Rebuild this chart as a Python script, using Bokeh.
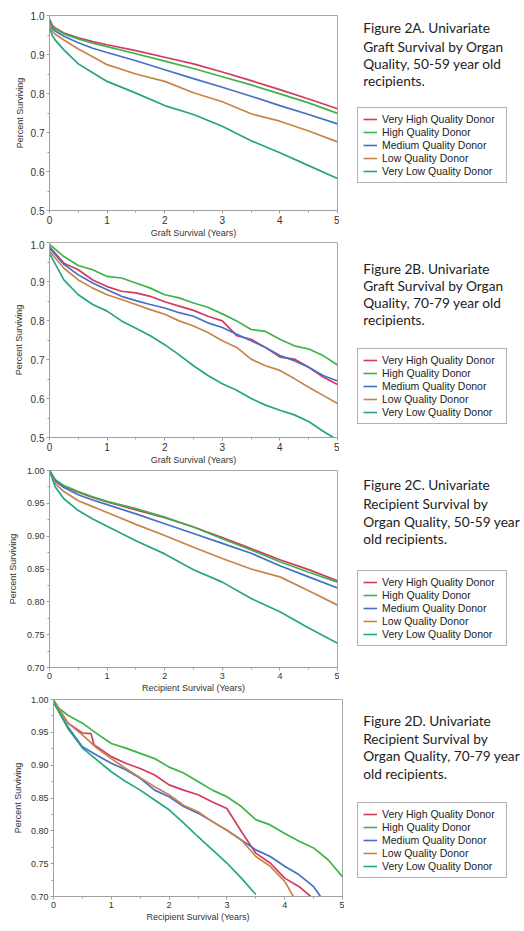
from bokeh.plotting import figure
from bokeh.models import Range1d, FixedTicker, PrintfTickFormatter, Legend, LegendItem, Label
from bokeh.layouts import column, row
from bokeh.embed import file_html
from bokeh.resources import INLINE

series_names = ["Very High Quality Donor", "High Quality Donor", "Medium Quality Donor",
                "Low Quality Donor", "Very Low Quality Donor"]
series_colors = ["#d43a5e", "#3db34a", "#4570c8", "#c98449", "#24a67e"]

x_ticks = [0, 1, 2, 3, 4, 5]
x_minor = [0.5, 1.5, 2.5, 3.5, 4.5]
y_ticks_graft = [0.5, 0.6, 0.7, 0.8, 0.9, 1.0]
y_minor_graft = [0.55, 0.65, 0.75, 0.85, 0.95]
y_ticks_recip = [0.70, 0.75, 0.80, 0.85, 0.90, 0.95, 1.00]
y_minor_recip = [0.725, 0.775, 0.825, 0.875, 0.925, 0.975]

# ---- Figure 2A: graft survival, 50-59 ----
a_years = [0, 0.05, 0.1, 0.25, 0.5, 0.75, 1, 1.5, 2, 2.5, 3, 3.5, 4, 4.5, 5]
a_very_high = [0.990, 0.975, 0.968, 0.955, 0.943, 0.933, 0.925, 0.910, 0.893, 0.876, 0.855, 0.833, 0.810, 0.786, 0.761]
a_high = [0.990, 0.973, 0.966, 0.953, 0.940, 0.929, 0.920, 0.902, 0.883, 0.864, 0.843, 0.822, 0.799, 0.776, 0.749]
a_medium = [0.985, 0.968, 0.960, 0.947, 0.930, 0.916, 0.905, 0.884, 0.861, 0.838, 0.816, 0.793, 0.769, 0.746, 0.722]
a_low = [0.980, 0.960, 0.952, 0.937, 0.914, 0.894, 0.874, 0.850, 0.831, 0.802, 0.779, 0.748, 0.729, 0.704, 0.676]
a_very_low = [0.970, 0.948, 0.937, 0.912, 0.876, 0.853, 0.831, 0.801, 0.769, 0.746, 0.716, 0.679, 0.648, 0.615, 0.582]

# ---- Figure 2B: graft survival, 70-79 ----
b_years = [0, 0.25, 0.5, 0.75, 1, 1.25, 1.5, 1.75, 2, 2.25, 2.5, 2.75, 3, 3.25, 3.5, 3.75, 4, 4.25, 4.5, 4.75, 5]
b_very_high = [0.989, 0.947, 0.930, 0.904, 0.887, 0.875, 0.871, 0.862, 0.848, 0.837, 0.826, 0.811, 0.799, 0.761, 0.752, 0.731, 0.706, 0.701, 0.680, 0.655, 0.636]
b_high = [0.995, 0.964, 0.941, 0.930, 0.913, 0.909, 0.896, 0.883, 0.866, 0.858, 0.845, 0.834, 0.817, 0.799, 0.777, 0.772, 0.752, 0.735, 0.727, 0.710, 0.686]
b_medium = [0.986, 0.944, 0.917, 0.896, 0.879, 0.862, 0.851, 0.841, 0.832, 0.820, 0.811, 0.794, 0.782, 0.765, 0.748, 0.731, 0.710, 0.697, 0.680, 0.659, 0.645]
b_low = [0.978, 0.934, 0.904, 0.883, 0.866, 0.854, 0.841, 0.828, 0.816, 0.799, 0.786, 0.769, 0.748, 0.731, 0.701, 0.684, 0.672, 0.651, 0.629, 0.608, 0.587]
b_very_low = [0.972, 0.904, 0.866, 0.841, 0.824, 0.799, 0.780, 0.761, 0.738, 0.712, 0.684, 0.659, 0.638, 0.621, 0.600, 0.583, 0.570, 0.558, 0.541, 0.516, 0.494]

# ---- Figure 2C: recipient survival, 50-59 ----
c_years = [0, 0.1, 0.25, 0.5, 0.75, 1, 1.5, 2, 2.5, 3, 3.5, 4, 4.5, 5]
c_very_high = [1.0, 0.985, 0.976, 0.967, 0.959, 0.952, 0.940, 0.928, 0.914, 0.898, 0.881, 0.864, 0.849, 0.832]
c_high = [1.0, 0.986, 0.977, 0.968, 0.960, 0.953, 0.942, 0.929, 0.914, 0.896, 0.879, 0.861, 0.845, 0.830]
c_medium = [1.0, 0.984, 0.974, 0.963, 0.955, 0.948, 0.934, 0.919, 0.904, 0.889, 0.874, 0.855, 0.838, 0.821]
c_low = [1.0, 0.980, 0.968, 0.954, 0.945, 0.936, 0.918, 0.901, 0.883, 0.866, 0.850, 0.838, 0.817, 0.795]
c_very_low = [1.0, 0.975, 0.957, 0.939, 0.926, 0.915, 0.893, 0.873, 0.849, 0.830, 0.805, 0.785, 0.760, 0.737]

# ---- Figure 2D: recipient survival, 70-79 ----
d_years_very_high = [0, 0.25, 0.5, 0.65, 0.7, 1, 1.25, 1.5, 1.75, 2, 2.25, 2.5, 2.75, 3, 3.25, 3.5, 3.75, 4, 4.25, 4.45]
d_very_high = [0.999, 0.964, 0.949, 0.948, 0.931, 0.913, 0.903, 0.895, 0.885, 0.870, 0.862, 0.855, 0.844, 0.834, 0.799, 0.766, 0.751, 0.728, 0.715, 0.700]
d_years_high = [0, 0.1, 0.25, 0.5, 0.75, 1, 1.25, 1.5, 1.75, 2, 2.25, 2.5, 2.75, 3, 3.25, 3.5, 3.75, 4, 4.25, 4.5, 4.75, 5]
d_high = [0.999, 0.986, 0.976, 0.964, 0.948, 0.933, 0.926, 0.918, 0.910, 0.897, 0.888, 0.875, 0.862, 0.852, 0.837, 0.817, 0.809, 0.796, 0.784, 0.774, 0.756, 0.730]
d_years_medium = [0, 0.25, 0.5, 0.75, 1, 1.25, 1.5, 1.75, 2, 2.25, 2.5, 2.75, 3, 3.25, 3.5, 3.75, 4, 4.25, 4.5, 4.62]
d_medium = [0.996, 0.958, 0.928, 0.915, 0.903, 0.893, 0.880, 0.862, 0.852, 0.837, 0.827, 0.814, 0.801, 0.786, 0.771, 0.761, 0.746, 0.733, 0.715, 0.700]
d_years_low = [0, 0.25, 0.5, 0.75, 1, 1.25, 1.5, 1.75, 2, 2.25, 2.5, 2.75, 3, 3.25, 3.5, 3.75, 4, 4.15]
d_low = [0.998, 0.964, 0.946, 0.926, 0.910, 0.895, 0.881, 0.867, 0.855, 0.839, 0.829, 0.814, 0.801, 0.786, 0.761, 0.746, 0.723, 0.700]
d_years_very_low = [0, 0.25, 0.5, 0.75, 1, 1.25, 1.5, 1.75, 2, 2.25, 2.5, 2.75, 3, 3.25, 3.5]
d_very_low = [0.996, 0.956, 0.926, 0.908, 0.890, 0.875, 0.862, 0.847, 0.832, 0.812, 0.791, 0.771, 0.751, 0.728, 0.703]

captions = {
    "A": ["Figure 2A. Univariate", "Graft Survival by Organ", "Quality, 50-59 year old", "recipients."],
    "B": ["Figure 2B. Univariate", "Graft Survival by Organ", "Quality, 70-79 year old", "recipients."],
    "C": ["Figure 2C. Univariate", "Recipient Survival by", "Organ Quality, 50-59 year", "old recipients."],
    "D": ["Figure 2D. Univariate", "Recipient Survival by", "Organ Quality, 70-79 year", "old recipients."],
}

# layout: page pixel positions (page has no margin)
panels = [
    dict(key="A", xlabel="Graft Survival (Years)", yr=(0.5, 1.0), yt=y_ticks_graft, ym=y_minor_graft, fmt="%.1f",
         series=[(a_years, a_very_high), (a_years, a_high), (a_years, a_medium), (a_years, a_low), (a_years, a_very_low)],
         page_top=0, height=240, top=15, bottom=28, left=49, fw=288, tick_fs="10px", ylab_stand=3,
         cap_y=[27, 45.7, 63.3, 80], leg_top=107),
    dict(key="B", xlabel="Graft Survival (Years)", yr=(0.5, 1.0), yt=y_ticks_graft, ym=y_minor_graft, fmt="%.1f",
         series=[(b_years, b_very_high), (b_years, b_high), (b_years, b_medium), (b_years, b_low), (b_years, b_very_low)],
         page_top=240, height=227, top=2, bottom=28, left=49, fw=288, tick_fs="10px", ylab_stand=4,
         cap_y=[267.7, 285, 302.3, 319.3], leg_top=348),
    dict(key="C", xlabel="Recipient Survival (Years)", yr=(0.70, 1.00), yt=y_ticks_recip, ym=y_minor_recip, fmt="%.2f",
         series=[(c_years, c_very_high), (c_years, c_high), (c_years, c_medium), (c_years, c_low), (c_years, c_very_low)],
         page_top=467, height=228, top=3, bottom=28, left=49, fw=288, tick_fs="9px", ylab_stand=6,
         cap_y=[484.3, 502.7, 520.7, 538.3], leg_top=570),
    dict(key="D", xlabel="Recipient Survival (Years)", yr=(0.70, 1.00), yt=y_ticks_recip, ym=y_minor_recip, fmt="%.2f",
         series=[(d_years_very_high, d_very_high), (d_years_high, d_high), (d_years_medium, d_medium),
                 (d_years_low, d_low), (d_years_very_low, d_very_low)],
         page_top=695, height=236, top=4, bottom=35, left=53, fw=289, tick_fs="9px", ylab_stand=5,
         cap_y=[720, 737.7, 755, 773], leg_top=802),
]

TOTAL_W = 524
CAPTION_X = 362.7
LEGEND_X = 357

rows = []
for cfg in panels:
    main_w = cfg["left"] + cfg["fw"] + 2
    p = figure(width=main_w, height=cfg["height"], output_backend="svg", toolbar_location=None,
               x_range=Range1d(0, 5), y_range=Range1d(*cfg["yr"]),
               min_border_left=cfg["left"], min_border_top=cfg["top"], min_border_bottom=cfg["bottom"],
               min_border_right=2)
    p.grid.visible = False
    p.outline_line_color = "#a8a8a8"
    p.outline_line_width = 1
    p.background_fill_color = "white"
    p.border_fill_color = "white"

    p.xaxis.ticker = FixedTicker(ticks=x_ticks, minor_ticks=x_minor)
    p.yaxis.ticker = FixedTicker(ticks=cfg["yt"], minor_ticks=cfg["ym"])
    p.yaxis.formatter = PrintfTickFormatter(format=cfg["fmt"])
    p.xaxis.formatter = PrintfTickFormatter(format="%d")
    p.xaxis.axis_label = cfg["xlabel"]
    p.yaxis.axis_label = "Percent Surviving"
    for ax in (p.xaxis, p.yaxis):
        ax.axis_line_color = "#a0a0a0"
        ax.major_tick_line_color = "#a0a0a0"
        ax.minor_tick_line_color = "#a0a0a0"
        ax.major_tick_in = 0
        ax.major_tick_out = 3
        ax.minor_tick_in = 0
        ax.minor_tick_out = 2
        ax.major_label_text_font = "Liberation Sans"
        ax.major_label_text_font_size = cfg["tick_fs"]
        ax.major_label_text_color = "#333333"
        ax.axis_label_text_font = "Liberation Sans"
        ax.axis_label_text_font_size = "9px"
        ax.axis_label_text_font_style = "normal"
        ax.axis_label_text_color = "#333333"
    p.xaxis.major_label_standoff = 2
    p.xaxis.axis_label_standoff = 1
    p.yaxis.major_label_standoff = 2
    p.yaxis.axis_label_standoff = cfg["ylab_stand"]

    for (xs, ys), col in zip(cfg["series"], series_colors):
        p.line(xs, ys, line_color=col, line_width=1.7)

    side_left = main_w
    side_w = TOTAL_W - main_w
    side_pad = LEGEND_X - side_left
    cap_h = cfg["leg_top"] - cfg["page_top"]
    leg_h = cfg["height"] - cap_h
    frame_top_page = cfg["page_top"] + cfg["top"]

    # caption block: its frame top lines up with the plot frame top; data coords = page pixels
    c = figure(width=side_w, height=cap_h, output_backend="svg", toolbar_location=None,
               x_range=Range1d(LEGEND_X, TOTAL_W),
               y_range=Range1d(cfg["leg_top"], frame_top_page),
               x_axis_type=None, y_axis_type=None,
               min_border_left=side_pad, min_border_right=0,
               min_border_top=cfg["top"], min_border_bottom=0)
    c.grid.visible = False
    c.outline_line_color = None
    c.background_fill_color = "white"
    c.border_fill_color = "white"
    for line_text, ly in zip(captions[cfg["key"]], cfg["cap_y"]):
        c.add_layout(Label(x=CAPTION_X, y=ly, text=line_text, text_font="Lato", text_font_size="13.7px",
                           text_baseline="middle", text_align="left", text_color="#222222"))

    # legend block: its frame bottom lines up with the plot frame bottom
    lg = figure(width=side_w, height=leg_h, output_backend="svg", toolbar_location=None,
                x_range=Range1d(0, 1), y_range=Range1d(0, 1),
                x_axis_type=None, y_axis_type=None,
                min_border_left=side_pad, min_border_right=0,
                min_border_top=0, min_border_bottom=cfg["bottom"])
    lg.grid.visible = False
    lg.outline_line_color = None
    lg.background_fill_color = "white"
    lg.border_fill_color = "white"
    items = []
    for name, col in zip(series_names, series_colors):
        proxy = lg.line(x=[float("nan")], y=[float("nan")], line_color=col, line_width=1.6)
        items.append(LegendItem(label=name, renderers=[proxy]))
    legend = Legend(items=items, location="top_left",
                    padding=5, spacing=1, margin=0, label_height=12, glyph_height=12, glyph_width=14,
                    label_standoff=5, label_width=119,
                    label_text_font="Liberation Sans", label_text_font_size="10.5px",
                    label_text_color="#222222",
                    border_line_color="#666666", border_line_width=1,
                    background_fill_color="white", background_fill_alpha=1.0)
    lg.add_layout(legend)

    rows.append(row(p, column(c, lg, spacing=0), spacing=0))

layout = column(*rows, spacing=0)
open("out.html", "w").write(file_html(layout, INLINE))
